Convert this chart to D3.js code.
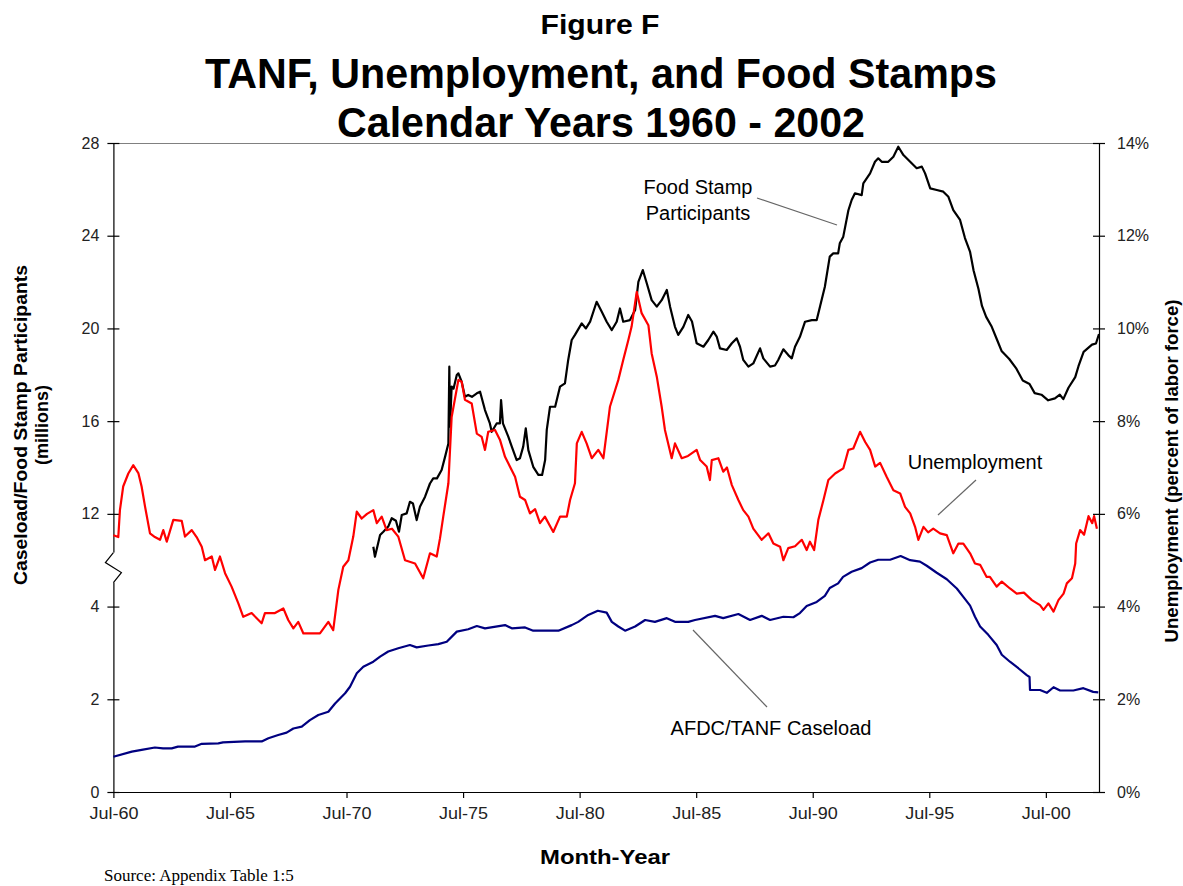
<!DOCTYPE html>
<html>
<head>
<meta charset="utf-8">
<script src="https://cdn.jsdelivr.net/npm/d3@7"></script>
<style>
  html, body { margin: 0; padding: 0; background: #fff; }
  svg { display: block; }
</style>
</head>
<body>
<svg id="chart" width="1183" height="886" font-family="'Liberation Sans', Arial, sans-serif"></svg>
<script>
// Monthly series sampled as [year (decimal, Jul-60 = 1960.5), value]

// AFDC/TANF caseload, millions of families (left axis, lower segment 0-4)
const caseload = [
  [1960.5,0.76],[1961.29,0.87],[1961.71,0.91],[1962.28,0.96],[1962.63,0.94],[1963.0,0.94],
  [1963.27,0.98],[1964.0,0.98],[1964.29,1.04],[1965.0,1.05],[1965.2,1.07],[1966.15,1.09],
  [1966.86,1.09],[1967.15,1.16],[1967.57,1.23],[1967.93,1.28],[1968.22,1.37],[1968.58,1.41],
  [1968.93,1.55],[1969.29,1.66],[1969.72,1.73],[1970.01,1.91],[1970.44,2.13],[1970.65,2.27],
  [1970.94,2.56],[1971.22,2.70],[1971.65,2.81],[1971.94,2.92],[1972.29,3.03],[1972.72,3.10],
  [1973.22,3.17],[1973.51,3.12],[1974.01,3.16],[1974.44,3.19],[1974.8,3.24],[1975.23,3.46],
  [1975.72,3.51],[1976.09,3.58],[1976.44,3.53],[1977.3,3.60],[1977.59,3.53],[1978.16,3.55],
  [1978.51,3.48],[1979.59,3.48],[1980.16,3.60],[1980.44,3.67],[1980.87,3.82],[1981.28,3.91],
  [1981.66,3.87],[1981.88,3.67],[1982.16,3.57],[1982.45,3.48],[1982.88,3.57],[1983.31,3.71],
  [1983.73,3.67],[1984.24,3.75],[1984.59,3.67],[1985.16,3.67],[1985.45,3.71],[1986.31,3.80],
  [1986.66,3.75],[1987.31,3.84],[1987.81,3.71],[1988.31,3.80],[1988.67,3.71],[1989.24,3.78],
  [1989.67,3.77],[1989.95,3.86],[1990.24,4.01],[1990.67,4.10],[1991.02,4.23],[1991.23,4.40],
  [1991.59,4.50],[1991.8,4.64],[1992.17,4.75],[1992.6,4.83],[1992.96,4.95],[1993.31,5.01],
  [1993.82,5.01],[1994.27,5.09],[1994.68,5.00],[1995.1,4.97],[1995.39,4.88],[1995.82,4.73],
  [1996.25,4.59],[1996.68,4.39],[1996.96,4.21],[1997.25,4.02],[1997.46,3.78],[1997.68,3.57],
  [1998.03,3.39],[1998.39,3.17],[1998.61,2.96],[1998.96,2.81],[1999.32,2.67],[1999.68,2.52],
  [1999.8,2.48],[1999.82,2.20],[2000.25,2.20],[2000.54,2.14],[2000.83,2.26],[2001.11,2.19],
  [2001.68,2.19],[2002.11,2.24],[2002.53,2.16],[2002.75,2.15]
];

// Food stamp participants, millions (left axis, upper segment 12-28)
const foodStamps = [
  [1971.65,10.58],[1971.72,10.15],[1971.94,11.09],[1972.08,11.23],[1972.29,11.45],[1972.44,11.81],
  [1972.62,11.70],[1972.75,11.23],[1972.87,11.95],[1973.08,12.02],[1973.22,12.52],[1973.35,12.45],
  [1973.51,11.73],[1973.65,12.31],[1973.87,12.74],[1974.08,13.31],[1974.22,13.53],[1974.38,13.53],
  [1974.58,13.89],[1974.73,14.47],[1974.87,15.04],[1974.91,18.35],[1974.94,15.76],[1975.01,17.49],
  [1975.09,17.40],[1975.23,17.99],[1975.3,18.06],[1975.44,17.70],[1975.58,17.05],[1975.72,17.13],
  [1975.88,17.05],[1976.09,17.20],[1976.23,17.27],[1976.44,16.48],[1976.65,15.90],[1976.73,15.54],
  [1976.94,15.90],[1977.08,15.90],[1977.13,16.91],[1977.21,15.90],[1977.44,15.33],[1977.59,14.90],
  [1977.8,14.32],[1977.94,14.40],[1978.08,14.90],[1978.19,15.69],[1978.3,14.75],[1978.51,14.03],
  [1978.73,13.68],[1978.89,13.68],[1979.02,14.32],[1979.09,15.62],[1979.23,16.62],[1979.45,16.62],
  [1979.66,17.49],[1979.87,17.63],[1980.01,18.64],[1980.16,19.50],[1980.3,19.72],[1980.59,20.22],
  [1980.77,20.00],[1980.95,20.29],[1981.23,21.15],[1981.45,20.72],[1981.66,20.29],[1981.88,19.93],
  [1982.09,20.29],[1982.23,20.86],[1982.37,20.29],[1982.66,20.36],[1982.88,20.79],[1983.02,22.01],
  [1983.21,22.52],[1983.38,21.95],[1983.59,21.22],[1983.81,20.94],[1984.02,21.22],[1984.24,21.66],
  [1984.38,20.94],[1984.59,20.07],[1984.73,19.72],[1984.95,20.07],[1985.16,20.58],[1985.32,20.30],
  [1985.52,19.36],[1985.81,19.21],[1986.02,19.50],[1986.24,19.86],[1986.38,19.65],[1986.52,19.14],
  [1986.81,19.07],[1987.03,19.36],[1987.24,19.57],[1987.38,19.21],[1987.52,18.64],[1987.74,18.35],
  [1987.95,18.49],[1988.24,19.14],[1988.38,18.71],[1988.67,18.35],[1988.88,18.40],[1989.02,18.64],
  [1989.24,19.10],[1989.45,18.85],[1989.6,18.71],[1989.74,19.21],[1989.95,19.64],[1990.17,20.29],
  [1990.46,20.36],[1990.67,20.36],[1990.81,20.94],[1991.02,21.80],[1991.23,23.10],[1991.38,23.24],
  [1991.59,23.24],[1991.66,23.67],[1991.81,23.96],[1992.03,25.10],[1992.17,25.54],[1992.31,25.83],
  [1992.6,25.75],[1992.67,26.26],[1992.96,26.69],[1993.17,27.19],[1993.31,27.34],[1993.46,27.19],
  [1993.74,27.19],[1993.96,27.41],[1994.17,27.84],[1994.39,27.48],[1994.68,27.19],[1994.96,26.91],
  [1995.18,26.98],[1995.32,26.69],[1995.54,26.04],[1995.82,25.97],[1996.1,25.90],[1996.32,25.68],
  [1996.53,25.10],[1996.82,24.68],[1997.03,23.90],[1997.25,23.30],[1997.4,22.50],[1997.61,21.70],
  [1997.76,20.97],[1997.94,20.50],[1998.18,20.07],[1998.41,19.50],[1998.6,19.03],[1998.93,18.68],
  [1999.22,18.29],[1999.51,17.75],[1999.8,17.60],[2000.02,17.21],[2000.31,17.14],[2000.6,16.90],
  [2000.89,16.98],[2001.1,17.14],[2001.25,16.95],[2001.47,17.44],[2001.76,17.90],[2001.9,18.37],
  [2002.12,18.99],[2002.48,19.30],[2002.65,19.35],[2002.78,19.76]
];

// Unemployment rate, percent of labor force (right axis)
const unemployment = [
  [1960.5,5.54],[1960.71,5.50],[1960.78,6.08],[1960.92,6.59],[1961.14,6.87],[1961.35,7.05],
  [1961.57,6.88],[1961.71,6.59],[1961.86,6.15],[1962.07,5.58],[1962.28,5.50],[1962.5,5.44],
  [1962.64,5.65],[1962.79,5.40],[1963.07,5.87],[1963.43,5.85],[1963.57,5.51],[1963.86,5.65],
  [1964.07,5.50],[1964.29,5.29],[1964.43,5.00],[1964.72,5.08],[1964.86,4.79],[1965.07,5.08],
  [1965.29,4.72],[1965.57,4.43],[1965.86,4.07],[1966.07,3.78],[1966.43,3.86],[1966.86,3.64],
  [1967.0,3.86],[1967.43,3.86],[1967.79,3.96],[1968.0,3.71],[1968.22,3.53],[1968.43,3.67],
  [1968.65,3.42],[1968.93,3.42],[1969.36,3.42],[1969.72,3.67],[1969.93,3.49],[1970.15,4.36],
  [1970.36,4.86],[1970.58,5.00],[1970.79,5.51],[1970.94,6.05],[1971.15,5.90],[1971.38,6.00],
  [1971.65,6.08],[1971.8,5.80],[1972.01,5.94],[1972.22,5.65],[1972.45,5.68],[1972.72,5.51],
  [1973.01,5.00],[1973.44,4.93],[1973.79,4.61],[1974.08,5.15],[1974.37,5.08],[1974.51,5.47],
  [1974.65,5.94],[1974.87,6.66],[1975.01,8.09],[1975.3,8.89],[1975.44,8.85],[1975.58,8.46],
  [1975.87,8.38],[1976.09,7.73],[1976.3,7.66],[1976.44,7.38],[1976.58,7.77],[1976.87,7.81],
  [1977.08,7.60],[1977.3,7.23],[1977.44,7.09],[1977.73,6.80],[1977.94,6.37],[1978.16,6.30],
  [1978.37,6.01],[1978.59,6.10],[1978.8,5.80],[1979.01,5.94],[1979.37,5.61],[1979.66,5.94],
  [1979.95,5.94],[1980.09,6.30],[1980.3,6.66],[1980.38,7.52],[1980.59,7.77],[1980.8,7.52],
  [1981.02,7.20],[1981.3,7.38],[1981.52,7.20],[1981.8,8.31],[1982.16,8.89],[1982.37,9.32],
  [1982.59,9.75],[1982.73,10.04],[1982.95,10.79],[1983.16,10.33],[1983.45,10.07],[1983.59,9.46],
  [1983.81,8.96],[1984.02,8.31],[1984.16,7.81],[1984.45,7.20],[1984.59,7.52],[1984.88,7.20],
  [1985.15,7.25],[1985.52,7.38],[1985.67,7.16],[1985.95,7.02],[1986.09,6.73],[1986.17,7.16],
  [1986.45,7.20],[1986.66,6.91],[1986.82,7.00],[1987.03,6.62],[1987.31,6.30],[1987.52,6.08],
  [1987.74,5.94],[1987.95,5.68],[1988.31,5.44],[1988.6,5.58],[1988.81,5.36],[1989.1,5.29],
  [1989.24,5.00],[1989.45,5.26],[1989.74,5.30],[1990.03,5.44],[1990.24,5.22],[1990.38,5.40],
  [1990.56,5.22],[1990.74,5.87],[1990.96,6.30],[1991.17,6.73],[1991.46,6.87],[1991.81,6.98],
  [1992.03,7.38],[1992.24,7.41],[1992.53,7.77],[1992.75,7.55],[1992.96,7.38],[1993.18,7.02],
  [1993.39,7.10],[1993.67,6.80],[1993.96,6.51],[1994.25,6.44],[1994.46,6.15],[1994.68,6.01],
  [1994.89,5.72],[1995.03,5.44],[1995.25,5.72],[1995.45,5.60],[1995.67,5.68],[1995.96,5.58],
  [1996.25,5.54],[1996.53,5.15],[1996.75,5.36],[1996.96,5.36],[1997.25,5.15],[1997.46,4.93],
  [1997.68,4.90],[1997.96,4.64],[1998.1,4.64],[1998.39,4.43],[1998.61,4.54],[1998.96,4.39],
  [1999.25,4.28],[1999.56,4.30],[1999.9,4.14],[2000.25,4.03],[2000.4,3.93],[2000.61,4.07],
  [2000.83,3.89],[2001.04,4.14],[2001.26,4.28],[2001.4,4.50],[2001.62,4.61],[2001.76,4.93],
  [2001.8,5.36],[2001.97,5.65],[2002.14,5.55],[2002.33,5.95],[2002.49,5.80],[2002.57,5.95],
  [2002.69,5.68]
];

// Axis ticks and labels
const xTickYears = [1960.5,1965.5,1970.5,1975.5,1980.5,1985.5,1990.5,1995.5,2000.5];
const xTickLabels = ["Jul-60","Jul-65","Jul-70","Jul-75","Jul-80","Jul-85","Jul-90","Jul-95","Jul-00"];
const yTickValues = [0,2,4,6,8,10,12,14];
const leftTickLabels = ["0","2","4","12","16","20","24","28"];
const rightTickLabels = ["0%","2%","4%","6%","8%","10%","12%","14%"];

const svg = d3.select("#chart");
const plot = { left: 113.4, right: 1099, top: 143, bottom: 792 };

const x = d3.scaleLinear().domain([1960.5, 2002.78]).range([plot.left, plot.right]);
// One shared scale: caseload in millions (0-4), food stamps drawn at half value
// so the 12-28 labels sit on the 6-14 gridline positions, unemployment in percent.
const y = d3.scaleLinear().domain([0, 14]).range([plot.bottom, plot.top]);

// top border of plot area
svg.append("line")
  .attr("x1", plot.left).attr("x2", plot.right)
  .attr("y1", plot.top + 0.5).attr("y2", plot.top + 0.5)
  .attr("stroke", "#808080").attr("stroke-width", 1);

// Axes
const axisFont = g => g.selectAll("text")
  .attr("font-family", "'Liberation Sans', Arial, sans-serif")
  .attr("font-size", 16).attr("fill", "#222");

const gLeft = svg.append("g").attr("transform", `translate(${plot.left},0)`)
  .call(d3.axisLeft(y).tickValues(yTickValues).tickFormat((d, i) => leftTickLabels[i])
    .tickSizeInner(6).tickSizeOuter(0).tickPadding(8))
  .call(axisFont);
gLeft.selectAll(".tick line").attr("x1", 6).attr("x2", -6);

const gRight = svg.append("g").attr("transform", `translate(${plot.right},0)`)
  .call(d3.axisRight(y).tickValues(yTickValues).tickFormat((d, i) => rightTickLabels[i])
    .tickSizeInner(6).tickSizeOuter(0).tickPadding(12))
  .call(axisFont);
gRight.selectAll(".tick line").attr("x1", -6).attr("x2", 6);

const gBottom = svg.append("g").attr("transform", `translate(0,${plot.bottom})`)
  .call(d3.axisBottom(x).tickValues(xTickYears).tickFormat((d, i) => xTickLabels[i])
    .tickSizeInner(6).tickSizeOuter(0).tickPadding(10))
  .call(axisFont);
gBottom.selectAll("text").attr("textLength", 49).attr("lengthAdjust", "spacingAndGlyphs");

[gLeft, gRight, gBottom].forEach(g => {
  g.select(".domain").attr("stroke", "#000").attr("stroke-width", 1.2);
  g.selectAll(".tick line").attr("stroke", "#000").attr("stroke-width", 1.2);
});

// Scale break on the left axis between 4 and 12
const brTop = y(4) - 54, brBot = y(4) - 24;
svg.append("rect").attr("x", plot.left - 2).attr("y", brTop).attr("width", 4)
  .attr("height", brBot - brTop).attr("fill", "#fff");
svg.append("path")
  .attr("d", `M${plot.left},${brTop} L${plot.left - 8},${brTop + 10} L${plot.left + 8},${brTop + 20} L${plot.left},${brBot}`)
  .attr("fill", "none").attr("stroke", "#000").attr("stroke-width", 1.2);

// Series lines
const line = d3.line().x(d => x(d[0])).y(d => y(d[1]));
svg.append("path").datum(caseload)
  .attr("d", line).attr("fill", "none").attr("stroke", "#000080").attr("stroke-width", 2.2)
  .attr("stroke-linejoin", "round");
svg.append("path").datum(foodStamps.map(d => [d[0], d[1] / 2]))
  .attr("d", line).attr("fill", "none").attr("stroke", "#000").attr("stroke-width", 2.2)
  .attr("stroke-linejoin", "round");
svg.append("path").datum(unemployment)
  .attr("d", line).attr("fill", "none").attr("stroke", "#ff0000").attr("stroke-width", 2.2)
  .attr("stroke-linejoin", "round");

// Series labels with leader lines
const leader = (x1, y1, x2, y2) => svg.append("line")
  .attr("x1", x1).attr("y1", y1).attr("x2", x2).attr("y2", y2)
  .attr("stroke", "#666").attr("stroke-width", 1.2);
leader(757, 198, 837, 225);
leader(976, 480, 938, 515);
leader(693, 630, 767, 707);

const note = (txt, cx, by) => svg.append("text").attr("x", cx).attr("y", by)
  .attr("text-anchor", "middle").attr("font-size", 20).attr("fill", "#000").text(txt);
note("Food Stamp", 698, 194);
note("Participants", 698, 220);
note("Unemployment", 975, 469);
note("AFDC/TANF Caseload", 771, 735);

// Titles
const title = (txt, cx, by, size, len) => svg.append("text").attr("x", cx).attr("y", by)
  .attr("text-anchor", "middle").attr("font-size", size).attr("font-weight", "bold")
  .attr("textLength", len).attr("lengthAdjust", "spacingAndGlyphs").text(txt);
title("Figure F", 600, 34, 27, 119);
title("TANF, Unemployment, and Food Stamps", 601, 88, 43, 792);
title("Calendar Years 1960 - 2002", 601, 137, 43, 528);

// Axis titles
svg.append("text").attr("transform", "translate(27,425) rotate(-90)")
  .attr("text-anchor", "middle").attr("font-size", 18).attr("font-weight", "bold")
  .attr("textLength", 320).attr("lengthAdjust", "spacingAndGlyphs")
  .text("Caseload/Food Stamp Participants");
svg.append("text").attr("transform", "translate(48,425) rotate(-90)")
  .attr("text-anchor", "middle").attr("font-size", 18).attr("font-weight", "bold")
  .text("(millions)");
svg.append("text").attr("transform", "translate(1178,471) rotate(-90)")
  .attr("text-anchor", "middle").attr("font-size", 18).attr("font-weight", "bold")
  .attr("textLength", 343).attr("lengthAdjust", "spacingAndGlyphs")
  .text("Unemployment (percent of labor force)");
svg.append("text").attr("x", 605).attr("y", 864)
  .attr("text-anchor", "middle").attr("font-size", 21).attr("font-weight", "bold")
  .attr("textLength", 130).attr("lengthAdjust", "spacingAndGlyphs")
  .text("Month-Year");
svg.append("text").attr("x", 104).attr("y", 881)
  .attr("font-family", "'Liberation Serif', 'Times New Roman', serif").attr("font-size", 17)
  .text("Source: Appendix Table 1:5");
</script>
</body>
</html>
